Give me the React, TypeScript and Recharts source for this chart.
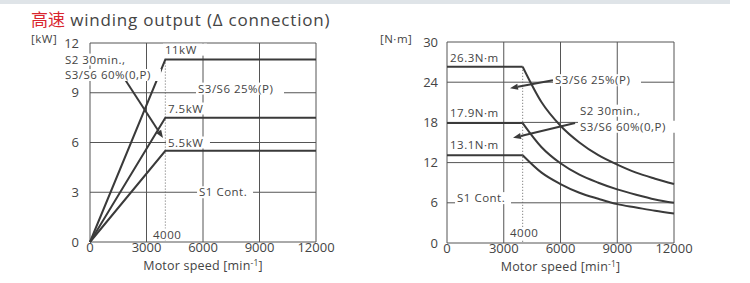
import React from 'react';
import { LineChart, Line, XAxis, YAxis, CartesianGrid, ReferenceLine, ReferenceDot } from 'recharts';

// output curves (kW) vs motor speed
const rpmKw = [0, 4000, 12000];
const s1Kw = [0, 5.5, 5.5];
const s2Kw = [0, 7.5, 7.5];
const s3Kw = [0, 11, 11];

// torque curves (N·m): flat up to base speed, then falling
const rpmFlat = [0, 4000];
const rpmFall = [4000, 5000, 6000, 7000, 8000, 9000, 10000, 11000, 12000];
const s3Nm = [26.3, 21.0, 17.5, 15.0, 13.1, 11.7, 10.5, 9.6, 8.8];
const s2Nm = [17.9, 14.3, 11.9, 10.2, 9.0, 8.0, 7.2, 6.5, 6.0];
const s1Nm = [13.1, 10.5, 8.8, 7.5, 6.6, 5.8, 5.3, 4.8, 4.4];

const speedTicks = [0, 3000, 6000, 9000, 12000];
const kwTicks = [0, 3, 6, 9, 12];
const nmTicks = [0, 6, 12, 18, 24, 30];

const kwData = rpmKw.map((rpm, i) => ({ rpm, s1: s1Kw[i], s2: s2Kw[i], s3: s3Kw[i] }));
const flatData = rpmFlat.map((rpm) => ({ rpm, s1: s1Nm[0], s2: s2Nm[0], s3: s3Nm[0] }));
const fallData = rpmFall.map((rpm, i) => ({ rpm, s1: s1Nm[i], s2: s2Nm[i], s3: s3Nm[i] }));

const FONT = '"Open Sans", "Noto Sans", sans-serif';
const TXT = '#444';
const CURVE = '#3a3a3a';
const GRID = '#555';

const Tag = ({ cx, cy, text, w, anchor = 'start', size = 11.5, bg = true }: any) => {
  const left = anchor === 'start' ? cx : anchor === 'middle' ? cx - w / 2 : cx - w;
  return (
    <g>
      {bg && <rect x={left - 2} y={cy - 6} width={w + 4} height={12} fill="#fff" />}
      <text x={cx} y={cy} dy="0.35em" textAnchor={anchor} fontSize={size} fill={TXT} fontFamily={FONT}
        letterSpacing={0.5}>
        {text}
      </text>
    </g>
  );
};

const Arrow = (p: any) => {
  const { x1, y1, x2, y2 } = p;
  const a = Math.atan2(y2 - y1, x2 - x1);
  const L = 8, W = 3;
  const bx = x2 - L * Math.cos(a), by = y2 - L * Math.sin(a);
  const pts = `${x2},${y2} ${bx - W * Math.sin(a)},${by + W * Math.cos(a)} ${bx + W * Math.sin(a)},${by - W * Math.cos(a)}`;
  return (
    <g>
      <line x1={x1} y1={y1} x2={bx} y2={by} stroke={CURVE} strokeWidth={2} />
      <polygon points={pts} fill={CURVE} />
    </g>
  );
};

const SpeedTitle = ({ viewBox }: any) => {
  const cx = viewBox.x + viewBox.width / 2;
  return (
    <text x={cx} y={viewBox.y + 28} textAnchor="middle" fontSize={12.5} fill={TXT} fontFamily={FONT} letterSpacing={0.2}>
      Motor speed [min<tspan dy={-4} fontSize={8.5}>-1</tspan><tspan dy={4}>]</tspan>
    </text>
  );
};

const label = (x: number, y: number, text: string, w: number, key: string, bg = true) => (
  <ReferenceDot
    key={key}
    x={x}
    y={y}
    r={0}
    ifOverflow="visible"
    shape={(p: any) => <Tag cx={p.cx} cy={p.cy} text={text} w={w} bg={bg} />}
  />
);

const axisTick = { fill: TXT, fontSize: 13, fontFamily: FONT };

export default function App() {
  return (
    <div style={{ position: 'absolute', left: 0, top: 0, width: 750, height: 283, background: '#fff', overflow: 'hidden' }}>
      <div style={{ position: 'absolute', left: 0, top: 0, width: 730, height: 4, background: '#dfe4e8' }} />
      <div style={{ position: 'absolute', left: 31, top: 7, fontSize: 17, fontFamily: FONT, color: TXT, whiteSpace: 'nowrap', lineHeight: '24px', letterSpacing: 0.8 }}>
        <span style={{ color: '#d9252e', fontFamily: '"Noto Sans CJK SC", sans-serif', letterSpacing: 0 }}>高速</span> winding output (Δ connection)
      </div>

      <div style={{ position: 'absolute', left: 0, top: 0 }}>
        <LineChart width={375} height={283} margin={{ top: 43, right: 59, bottom: 11, left: 50 }}>
          <CartesianGrid stroke={GRID} strokeWidth={1} />
          <XAxis dataKey="rpm" type="number" domain={[0, 12000]} ticks={speedTicks} axisLine={false} tickLine={false}
            tickSize={0} tickMargin={1} height={30} tick={axisTick} label={<SpeedTitle />} />
          <YAxis type="number" domain={[0, 12]} ticks={kwTicks} axisLine={false} tickLine={false}
            tickSize={0} tickMargin={11} width={40} tick={axisTick} />
          <ReferenceLine segment={[{ x: 4000, y: 11 }, { x: 4000, y: 0 }]} stroke="#666" strokeDasharray="1 2" strokeWidth={1} />
          <Line data={kwData} dataKey="s1" type="linear" stroke={CURVE} strokeWidth={2} dot={false} isAnimationActive={false} />
          <Line data={kwData} dataKey="s2" type="linear" stroke={CURVE} strokeWidth={2} dot={false} isAnimationActive={false} />
          <Line data={kwData} dataKey="s3" type="linear" stroke={CURVE} strokeWidth={2} dot={false} isAnimationActive={false} />
          {label(-3133, 12.25, '[kW]', 28, 'u', false)}
          {label(3980, 11.6, '11kW', 40, 'a')}
          {label(5735, 9.25, 'S3/S6 25%(P)', 84, 'b')}
          {label(4140, 8.05, '7.5kW', 40, 'c')}
          {label(4140, 6.0, '5.5kW', 40, 'd')}
          {label(5790, 3.0, 'S1 Cont.', 52, 'e')}
          {label(-1330, 11.0, 'S2 30min.,', 66, 'f')}
          {label(-1330, 10.07, 'S3/S6 60%(0,P)', 94, 'g')}
          {label(3345, 0.45, '4000', 30, 'h')}
          <ReferenceLine segment={[{ x: 1860, y: 9.8 }, { x: 3876, y: 6.27 }]} ifOverflow="visible" shape={Arrow} />
        </LineChart>
      </div>

      <div style={{ position: 'absolute', left: 375, top: 0 }}>
        <LineChart width={375} height={283} margin={{ top: 42, right: 76, bottom: 10, left: 32 }}>
          <CartesianGrid stroke={GRID} strokeWidth={1} />
          <XAxis dataKey="rpm" type="number" domain={[0, 12000]} ticks={speedTicks} axisLine={false} tickLine={false}
            tickSize={0} tickMargin={1} height={30} tick={axisTick} label={<SpeedTitle />} allowDuplicatedCategory={false} />
          <YAxis type="number" domain={[0, 30]} ticks={nmTicks} axisLine={false} tickLine={false}
            tickSize={0} tickMargin={9} width={40} tick={axisTick} />
          <ReferenceLine segment={[{ x: 4000, y: 26.3 }, { x: 4000, y: 0 }]} stroke="#666" strokeDasharray="1 2" strokeWidth={1} />
          <Line data={flatData} dataKey="s1" type="linear" stroke={CURVE} strokeWidth={2} dot={false} isAnimationActive={false} />
          <Line data={flatData} dataKey="s2" type="linear" stroke={CURVE} strokeWidth={2} dot={false} isAnimationActive={false} />
          <Line data={flatData} dataKey="s3" type="linear" stroke={CURVE} strokeWidth={2} dot={false} isAnimationActive={false} />
          <Line data={fallData} dataKey="s1" type="monotone" stroke={CURVE} strokeWidth={2} dot={false} isAnimationActive={false} />
          <Line data={fallData} dataKey="s2" type="monotone" stroke={CURVE} strokeWidth={2} dot={false} isAnimationActive={false} />
          <Line data={fallData} dataKey="s3" type="monotone" stroke={CURVE} strokeWidth={2} dot={false} isAnimationActive={false} />
          {label(-3544, 30.5, '[N·m]', 36, 'u', false)}
          {label(160, 27.6, '26.3N·m', 54, 'a', false)}
          {label(160, 19.4, '17.9N·m', 54, 'b', false)}
          {label(160, 14.6, '13.1N·m', 54, 'c', false)}
          {label(530, 6.7, 'S1 Cont.', 52, 'd')}
          {label(5710, 24.3, 'S3/S6 25%(P)', 84, 'e')}
          {label(7030, 19.75, 'S2 30min.,', 66, 'f')}
          {label(7030, 17.35, 'S3/S6 60%(0,P)', 94, 'g')}
          {label(3330, 1.45, '4000', 30, 'h')}
          <ReferenceLine segment={[{ x: 5600, y: 24.3 }, { x: 3330, y: 23.1 }]} ifOverflow="visible" shape={Arrow} />
          <ReferenceLine segment={[{ x: 6770, y: 17.9 }, { x: 3490, y: 15.7 }]} ifOverflow="visible" shape={Arrow} />
        </LineChart>
      </div>
    </div>
  );
}
